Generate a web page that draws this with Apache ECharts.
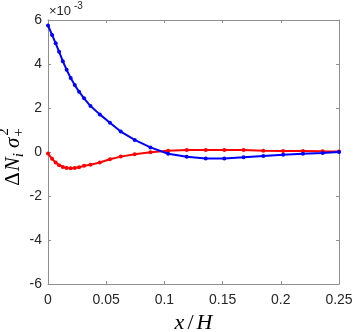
<!DOCTYPE html>
<html>
<head>
<meta charset="utf-8">
<script src="https://cdn.jsdelivr.net/npm/echarts@6/dist/echarts.min.js"></script>
<style>
html,body{margin:0;padding:0;background:#fff;}
#c{width:353px;height:332px;}
</style>
</head>
<body>
<div id="c"></div>
<script>
// x/H grid (shared by both curves)
var xValues = [0, 0.0035, 0.0066, 0.0095, 0.0127, 0.016, 0.0195, 0.023, 0.0267, 0.031, 0.0365, 0.0445, 0.0532, 0.0625, 0.0745, 0.088, 0.1032, 0.1192, 0.1355, 0.1515, 0.168, 0.185, 0.202, 0.219, 0.236, 0.25];
// values in units of 1e-3
var blueValues = [5.75, 5.32, 4.94, 4.56, 4.13, 3.74, 3.36, 3.04, 2.74, 2.44, 2.09, 1.71, 1.33, 0.93, 0.55, 0.21, -0.08, -0.22, -0.29, -0.29, -0.24, -0.18, -0.12, -0.08, -0.04, 0.0];
var redValues = [-0.07, -0.31, -0.48, -0.6, -0.68, -0.73, -0.74, -0.73, -0.69, -0.63, -0.58, -0.48, -0.33, -0.21, -0.1, -0.01, 0.06, 0.09, 0.09, 0.09, 0.09, 0.06, 0.05, 0.05, 0.03, 0.02];
var xTickLabels = ['0', '0.05', '0.1', '0.15', '0.2', '0.25'];
var yTickLabels = ['-6', '-4', '-2', '0', '2', '4', '6'];

function pairs(xs, ys) { return xs.map(function (x, i) { return [x, ys[i]]; }); }

var axisGray = '#8f8f8f';
var labelColor = '#262626';
var sans = 'Liberation Sans, Arial, sans-serif';
var serif = 'Liberation Serif, DejaVu Serif, serif';

var chart = echarts.init(document.getElementById('c'), null, {renderer: 'canvas'});

// y-axis label layout (rotated group)
var ctx = document.createElement('canvas').getContext('2d');
function w(text, font) { ctx.font = font; return ctx.measureText(text).width; }
var B = 21, S = 15;
var parts = [
  {t: '\u0394', dy: 0, fs: B, st: 'normal', gap: 1},
  {t: 'N', dy: 0, fs: B, st: 'italic', gap: 0},
  {t: 'i', dy: 6, fs: S, st: 'italic', gap: 5},
  {t: '\u03c3', dy: 0, fs: B, st: 'italic', gap: 1}
];
var children = [];
var cx = 0;
parts.forEach(function (p) {
  children.push({type: 'text', x: cx, y: p.dy, style: {text: p.t, fontSize: p.fs, fontStyle: p.st, fontFamily: serif, fill: '#000', verticalAlign: 'middle', align: 'left'}});
  cx += w(p.t, p.st + ' ' + p.fs + 'px ' + serif) + p.gap;
});
var subX = cx;
children.push({type: 'text', x: subX, y: 6, style: {text: '+', fontSize: S, fontFamily: serif, fill: '#000', verticalAlign: 'middle', align: 'left'}});
children.push({type: 'text', x: subX + 1, y: -9, style: {text: '2', fontSize: S, fontFamily: serif, fill: '#000', verticalAlign: 'middle', align: 'left'}});
var totalW = subX + w('+', S + 'px ' + serif);

var option = {
  animation: false,
  backgroundColor: '#fff',
  grid: {left: 48, top: 20, width: 291, height: 264, containLabel: false, outerBoundsMode: 'none'},
  xAxis: [{
    type: 'value', min: 0, max: 0.25, interval: 0.05, position: 'bottom',
    name: '{i|x}{n|/}{i|H}', nameLocation: 'middle', nameGap: 24,
    nameTextStyle: {rich: {
      i: {fontFamily: serif, fontStyle: 'italic', fontSize: 22, color: '#000'},
      n: {fontFamily: serif, fontSize: 22, color: '#000', padding: [0, 3, 0, 3]}
    }},
    axisLine: {show: true, onZero: false, lineStyle: {color: axisGray, width: 1}},
    axisTick: {show: true, inside: true, length: 3, lineStyle: {color: axisGray}},
    axisLabel: {margin: 9, color: labelColor, fontSize: 14, fontFamily: sans,
      formatter: function (v, i) { return xTickLabels[i]; }},
    splitLine: {show: false}
  }, {
    type: 'value', min: 0, max: 0.25, interval: 0.05, position: 'top',
    axisLine: {show: true, onZero: false, lineStyle: {color: axisGray, width: 1}},
    axisTick: {show: true, inside: true, length: 3, lineStyle: {color: axisGray}},
    axisLabel: {show: false}, splitLine: {show: false}
  }],
  yAxis: [{
    type: 'value', min: -6, max: 6, interval: 2, position: 'left',
    axisLine: {show: true, onZero: false, lineStyle: {color: axisGray, width: 1}},
    axisTick: {show: true, inside: true, length: 3, lineStyle: {color: axisGray}},
    axisLabel: {margin: 6, color: labelColor, fontSize: 14, fontFamily: sans,
      formatter: function (v, i) { return yTickLabels[i]; }},
    splitLine: {show: false}
  }, {
    type: 'value', min: -6, max: 6, interval: 2, position: 'right',
    axisLine: {show: true, onZero: false, lineStyle: {color: axisGray, width: 1}},
    axisTick: {show: true, inside: true, length: 3, lineStyle: {color: axisGray}},
    axisLabel: {show: false}, splitLine: {show: false}
  }],
  series: [{
    type: 'line', name: 'blue', xAxisIndex: 0, yAxisIndex: 0,
    data: pairs(xValues, blueValues),
    lineStyle: {color: '#0000ff', width: 2},
    itemStyle: {color: '#0000ff'},
    symbol: 'circle', symbolSize: 4, showAllSymbol: true, smooth: false, z: 3
  }, {
    type: 'line', name: 'red', xAxisIndex: 0, yAxisIndex: 0,
    data: pairs(xValues, redValues),
    lineStyle: {color: '#ff0000', width: 2},
    itemStyle: {color: '#ff0000'},
    symbol: 'circle', symbolSize: 4, showAllSymbol: true, smooth: false, z: 2
  }],
  graphic: [
    {type: 'text', left: 49, top: 5, style: {text: '\u00d710', fontSize: 13, fontFamily: sans, fill: labelColor}},
    {type: 'text', left: 74, top: 1, style: {text: '-3', fontSize: 10, fontFamily: sans, fill: labelColor}},
    {type: 'group', x: 13, y: 157 + totalW / 2, rotation: Math.PI / 2, children: children}
  ]
};
chart.setOption(option);
</script>
</body>
</html>
